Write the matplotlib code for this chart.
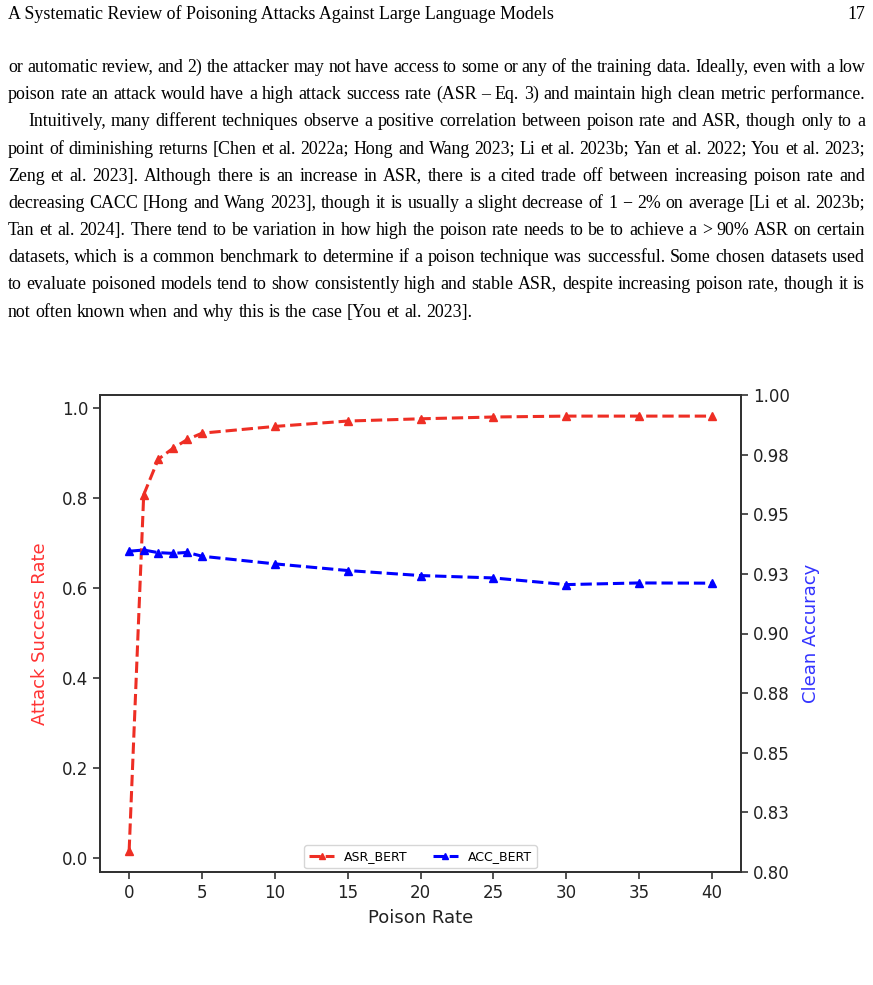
import math
import matplotlib
matplotlib.use("Agg")
import matplotlib.pyplot as plt
from matplotlib.font_manager import FontProperties

# --- page text ---
header_left = "A Systematic Review of Poisoning Attacks Against Large Language Models"
header_right = "17"

paragraph_1 = [
    "or automatic review, and 2) the attacker may not have access to some or any of the training data. Ideally, even with a low",
    "poison rate an attack would have a high attack success rate (ASR \u2013 Eq. 3) and maintain high clean metric performance.",
]
paragraph_2 = [
    "Intuitively, many different techniques observe a positive correlation between poison rate and ASR, though only to a",
    "point of diminishing returns [Chen et al. 2022a; Hong and Wang 2023; Li et al. 2023b; Yan et al. 2022; You et al. 2023;",
    "Zeng et al. 2023]. Although there is an increase in ASR, there is a cited trade off between increasing poison rate and",
    "decreasing CACC [Hong and Wang 2023], though it is usually a slight decrease of 1 \u2212 2% on average [Li et al. 2023b;",
    "Tan et al. 2024]. There tend to be variation in how high the poison rate needs to be to achieve a > 90% ASR on certain",
    "datasets, which is a common benchmark to determine if a poison technique was successful. Some chosen datasets used",
    "to evaluate poisoned models tend to show consistently high and stable ASR, despite increasing poison rate, though it is",
    "not often known when and why this is the case [You et al. 2023].",
]

# --- chart data ---
poison_rate = [0, 1, 2, 3, 4, 5, 10, 15, 20, 25, 30, 35, 40]
asr_bert = [0.015, 0.808, 0.887, 0.911, 0.931, 0.945, 0.960, 0.972, 0.977, 0.981, 0.983, 0.983, 0.983]
acc_bert = [0.9345, 0.9350, 0.9339, 0.9336, 0.9340, 0.9324, 0.9292, 0.9264, 0.9243, 0.9233, 0.9205, 0.9212, 0.9211]

xticks = [0, 5, 10, 15, 20, 25, 30, 35, 40]
acc_ticks = [0.800, 0.825, 0.850, 0.875, 0.900, 0.925, 0.950, 0.975, 1.000]
acc_tick_labels = ["0.80", "0.83", "0.85", "0.88", "0.90", "0.93", "0.95", "0.98", "1.00"]

W, H = 873, 985
SERIF = ["Liberation Serif", "DejaVu Serif"]
BODY_SIZE = 12.9

fig = plt.figure(figsize=(W / 100, H / 100), dpi=100)
renderer = fig.canvas.get_renderer()
body_prop = FontProperties(family=SERIF, size=BODY_SIZE)


def text_px(x, y, s, **kw):
    # Agg snaps each glyph bitmap by its own bbox; shift so every word sits on the same baseline row
    _, h, d = renderer.get_text_width_height_descent(s, body_prop, ismath=False)
    y = y + math.floor(h) - math.floor(h - d) - d
    return fig.text(x / W, 1 - y / H, s, fontproperties=body_prop, va="baseline", **kw)


def width_px(s):
    t = fig.text(0, 0, s, fontproperties=body_prop)
    w = t.get_window_extent(renderer).width
    t.remove()
    return w


space_w = width_px("a a") - width_px("aa")


def draw_line(line, y, x0, x1, justify=True):
    # place word by word so the line fills the column, like the typeset page
    words = line.split(" ")
    widths = [width_px(w) for w in words]
    if justify and len(words) > 1:
        gap = (x1 - x0 - sum(widths)) / (len(words) - 1)
    else:
        gap = space_w
    x = x0
    for w, ww in zip(words, widths):
        text_px(x, y, w)
        x += ww + gap


# header
text_px(8, 19, header_left)
text_px(865, 19, header_right, ha="right")

# body
left, right = 8, 865
baselines = [72, 99, 126, 154, 181, 208, 235, 262, 289, 317]
lines = [(l, left, True) for l in paragraph_1]
lines += [(paragraph_2[0], 28, True)]
lines += [(l, left, True) for l in paragraph_2[1:-1]]
lines += [(paragraph_2[-1], left, False)]
for (line, x0, just), y in zip(lines, baselines):
    draw_line(line, y, x0, right, just)

# --- chart ---
ax = fig.add_axes([100 / W, 1 - 872 / H, 641 / W, 477 / H])
ax2 = ax.twinx()

red = "#ee2e24"
blue = "#0000ff"

l1, = ax.plot(poison_rate, asr_bert, color=red, linestyle="--", marker="^",
              markersize=6, linewidth=2.2, label="ASR_BERT")
l2, = ax2.plot(poison_rate, acc_bert, color=blue, linestyle="--", marker="^",
               markersize=6, linewidth=2.2, label="ACC_BERT")

ax.set_xlim(-2, 42)
ax.set_ylim(-0.032, 1.03)
ax2.set_ylim(0.80, 1.00)

ax.set_xticks(xticks)
ax.set_yticks([0.0, 0.2, 0.4, 0.6, 0.8, 1.0])
ax2.set_yticks(acc_ticks)
ax2.set_yticklabels(acc_tick_labels)

for a in (ax, ax2):
    a.tick_params(labelsize=12, length=5, width=1.1, colors="#222222")
    for sp in a.spines.values():
        sp.set_linewidth(1.4)
        sp.set_color("#333333")

ax.set_xlabel("Poison Rate", fontsize=13, color="#222222", labelpad=5)
ax.set_ylabel("Attack Success Rate", fontsize=13, color="#ff3333", labelpad=9)
ax2.set_ylabel("Clean Accuracy", fontsize=13, color="#3333ff", labelpad=9)

ax.legend([l1, l2], ["ASR_BERT", "ACC_BERT"], loc="lower center", ncol=2,
          fontsize=9, frameon=True, borderaxespad=0.3, markerscale=0.8)

fig.savefig("out.png", dpi=100)
